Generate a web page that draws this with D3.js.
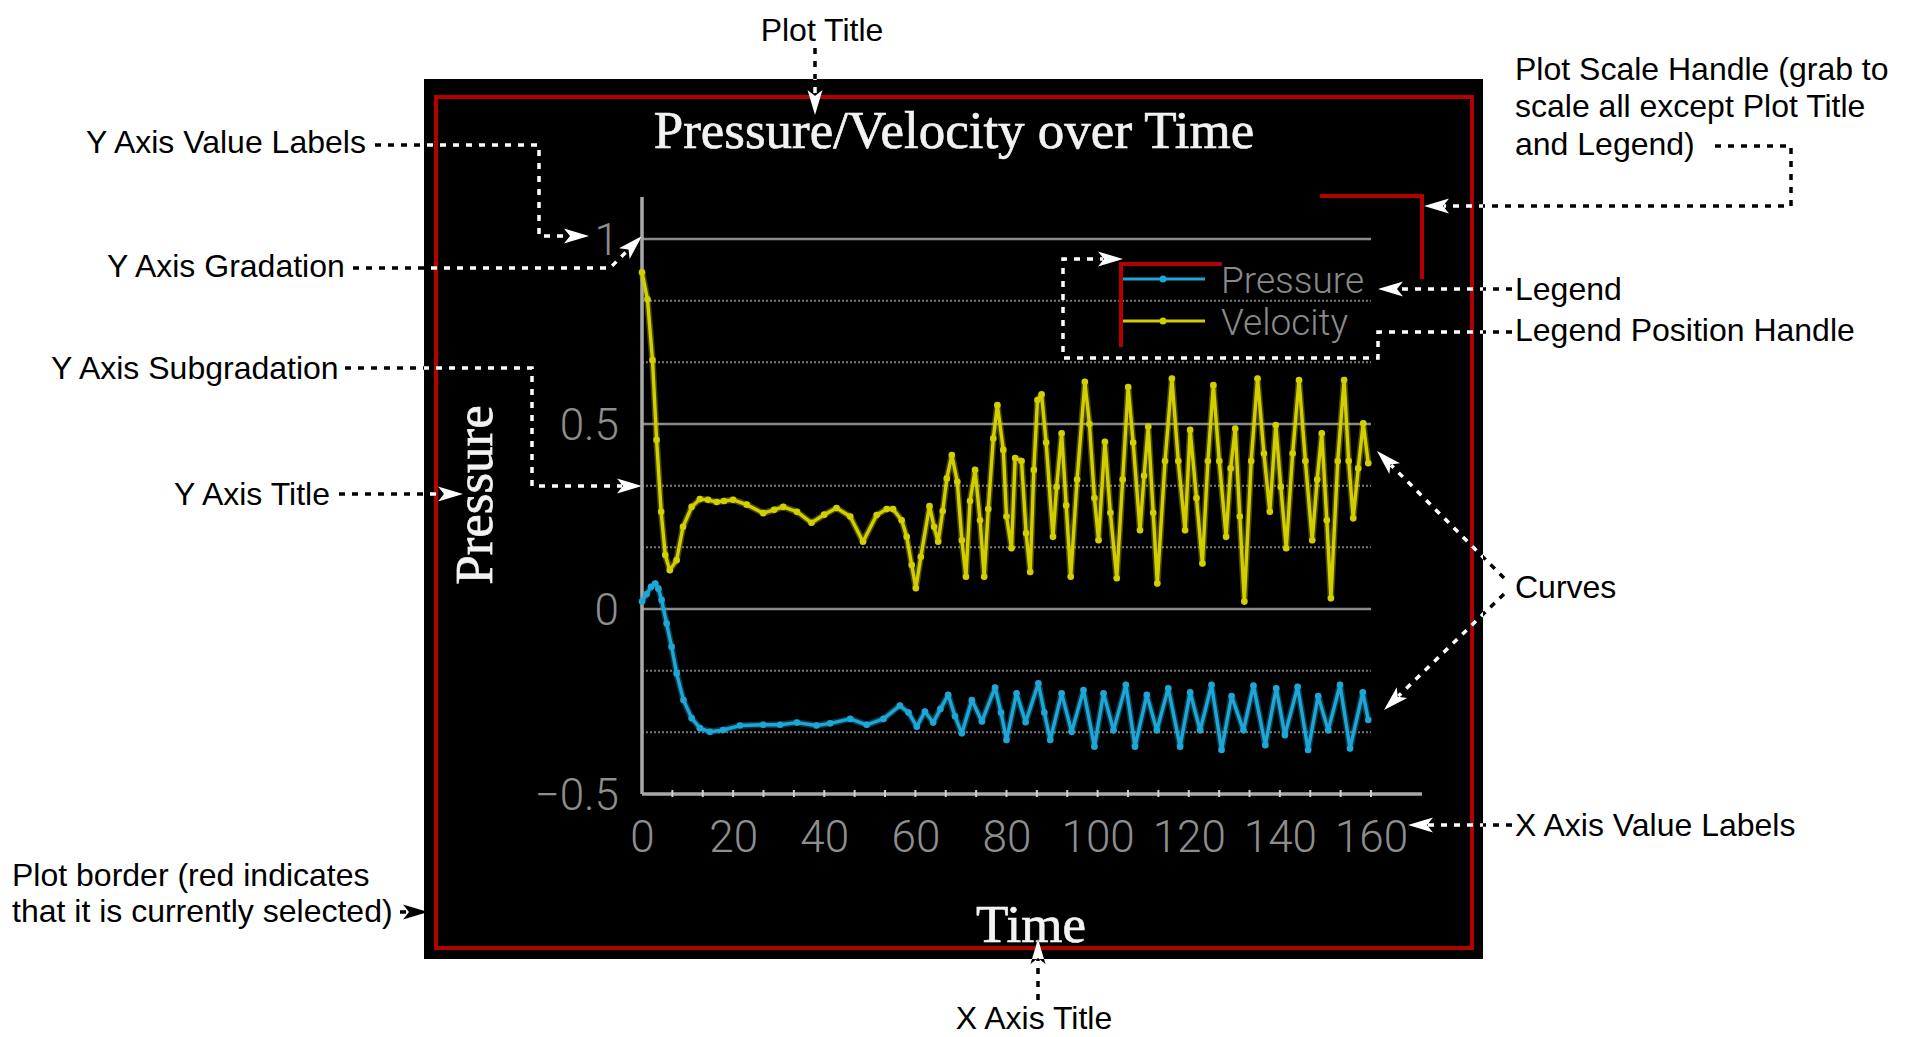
<!DOCTYPE html>
<html><head><meta charset="utf-8">
<script src="https://cdn.jsdelivr.net/npm/d3@7"></script>
<style>html,body{margin:0;padding:0;background:#fff;overflow:hidden}</style>
</head><body>
<svg id="c" width="1911" height="1037"></svg>
<script>
// ---------- data ----------
const chartTitle = "Pressure/Velocity over Time";
const xTitle = "Time";
const yTitle = "Pressure";
const seriesNames = ["Pressure", "Velocity"];
const xTickValues = [0, 20, 40, 60, 80, 100, 120, 140, 160];
const yTickValues = [-0.5, 0, 0.5, 1];
const yGridSolid = [0, 0.5, 1];
const yGridDotted = [-1/3, -1/6, 1/6, 1/3, 2/3, 5/6];

const pressureTime = [0,1,2,2.9,3.6,4.3,5.4,6.5,7.6,9.1,10.9,12.7,14.9,17.8,21.5,26.6,30.3,34,38.3,41.3,45.7,49.3,53,56.6,58.5,60.3,62.1,63.9,65.5,67.2,68.7,70.2,72.4,74.6,77.5,78.8,80,82.2,84.2,87,88.3,89.6,92.1,94.3,96.9,99.3,101.3,103.5,106.2,108.2,110.8,113,115.5,118.1,120.3,122.5,125,127.2,129.4,132,134.2,136.8,139.2,141.1,143.9,146.2,148.4,150.6,153.2,155.4,158.2,159.4];
const pressureValue = [0.02,0.04,0.06,0.069,0.055,0.024,-0.039,-0.102,-0.174,-0.246,-0.295,-0.322,-0.332,-0.327,-0.315,-0.313,-0.313,-0.307,-0.315,-0.309,-0.297,-0.313,-0.297,-0.261,-0.28,-0.318,-0.277,-0.307,-0.27,-0.232,-0.29,-0.336,-0.246,-0.304,-0.212,-0.28,-0.354,-0.228,-0.306,-0.201,-0.28,-0.354,-0.228,-0.332,-0.219,-0.372,-0.228,-0.328,-0.205,-0.372,-0.232,-0.328,-0.214,-0.372,-0.225,-0.328,-0.205,-0.381,-0.235,-0.328,-0.207,-0.368,-0.214,-0.341,-0.21,-0.381,-0.235,-0.328,-0.205,-0.377,-0.225,-0.3];

const velocityTime = [0,1.2,2.3,3.2,4.2,5.1,6.1,7.6,9,10.9,12.7,14.5,16.4,18,20,23,26.6,29,31,34,37.2,40,42.7,45.7,48.5,51.5,53.7,55.1,57,58.1,59.2,60.1,61.2,63.1,64.1,65,66,66.9,68,69.2,70.2,71.1,72,73.1,74.2,75.1,76,77.1,78,79.3,80,81.1,81.9,83.3,84.3,85.2,86,86.8,87.7,88.7,90.2,91,92.1,93.1,94.1,95.5,97.2,98.2,99.3,100.2,101.6,102.8,104.2,105.5,106.7,107.8,109.3,110.2,111.1,112.2,113.1,114.8,116.3,117.7,119.2,120.3,121.7,123,124.2,125.4,126.7,128.2,129.2,130.2,131.2,132.2,133.7,135.1,136.5,137.8,139.1,140.2,141.4,142.8,144.2,145.6,147.1,148.2,149.2,150.3,151.2,152.7,154.1,155.1,156.1,157.2,158.3,159.4];
const velocityValue = [0.91,0.837,0.673,0.457,0.263,0.146,0.105,0.132,0.222,0.276,0.297,0.295,0.289,0.292,0.295,0.282,0.259,0.268,0.276,0.263,0.233,0.255,0.273,0.25,0.182,0.254,0.27,0.27,0.24,0.195,0.119,0.056,0.141,0.278,0.222,0.182,0.265,0.353,0.416,0.344,0.186,0.087,0.292,0.376,0.24,0.087,0.27,0.461,0.551,0.43,0.25,0.164,0.408,0.4,0.205,0.1,0.376,0.565,0.58,0.45,0.195,0.33,0.475,0.28,0.087,0.35,0.614,0.5,0.3,0.186,0.452,0.26,0.083,0.35,0.6,0.45,0.213,0.36,0.493,0.26,0.069,0.4,0.623,0.4,0.213,0.484,0.3,0.123,0.4,0.605,0.4,0.195,0.38,0.488,0.25,0.02,0.4,0.623,0.42,0.263,0.497,0.33,0.164,0.42,0.619,0.4,0.186,0.35,0.475,0.24,0.029,0.4,0.619,0.4,0.245,0.38,0.502,0.394];

const seriesColors = ["#1ea6d6", "#d2ce00"];

// annotation labels
const annTexts = [
  {t: "Plot Title", x: 822, y: 41, a: "middle"},
  {t: "Plot Scale Handle (grab to", x: 1515, y: 80, a: "start"},
  {t: "scale all except Plot Title", x: 1515, y: 117, a: "start"},
  {t: "and Legend)", x: 1515, y: 155, a: "start"},
  {t: "Legend", x: 1515, y: 300, a: "start"},
  {t: "Legend Position Handle", x: 1515, y: 341, a: "start"},
  {t: "Curves", x: 1515, y: 598, a: "start"},
  {t: "X Axis Value Labels", x: 1515, y: 836, a: "start"},
  {t: "Y Axis Value Labels", x: 86, y: 153, a: "start"},
  {t: "Y Axis Gradation", x: 107, y: 277, a: "start"},
  {t: "Y Axis Subgradation", x: 51, y: 379, a: "start"},
  {t: "Y Axis Title", x: 174, y: 505, a: "start"},
  {t: "Plot border (red indicates", x: 12, y: 886, a: "start"},
  {t: "that it is currently selected)", x: 12, y: 922, a: "start"},
  {t: "X Axis Title", x: 1034, y: 1029, a: "middle"}
];
const annArrows = [
  {p: [[815,48],[815,115]]},
  {p: [[375,145],[539,145],[539,236],[589,236]]},
  {p: [[353,268],[610,268],[642,236]]},
  {p: [[345,368],[532,368],[532,486],[642,486]]},
  {p: [[339,494],[463,494]]},
  {p: [[1715,146],[1791,146],[1791,206],[1424,206]]},
  {p: [[1512,289],[1378,289]]},
  {p: [[1512,332],[1378,332],[1378,358],[1063,358],[1063,259],[1123,259]]},
  {p: [[1504,578],[1377,451]]},
  {p: [[1504,594],[1384,710]]},
  {p: [[1512,825],[1408,825]]},
  {p: [[1038,1000],[1038,939]]},
  {p: [[400,912],[428,912]], blackOnly: true}
];

// ---------- drawing ----------
const svg = d3.select("#c");
svg.append("rect").attr("width", 1911).attr("height", 1037).attr("fill", "#fff");

const panel = {x: 424, y: 79, w: 1059, h: 880};
svg.append("defs").append("clipPath").attr("id", "panelClip")
  .append("rect").attr("x", panel.x).attr("y", panel.y).attr("width", panel.w).attr("height", panel.h);

svg.append("rect").attr("x", panel.x).attr("y", panel.y).attr("width", panel.w).attr("height", panel.h).attr("fill", "#000");
svg.append("rect").attr("x", 436).attr("y", 97).attr("width", 1036).attr("height", 851)
  .attr("fill", "none").attr("stroke", "#b30000").attr("stroke-width", 4);

const x = d3.scaleLinear().domain([0, 160]).range([642, 1371]);
const y = d3.scaleLinear().domain([-0.5, 1]).range([794, 239]);

// grid
const g = svg.append("g");
g.selectAll("line.gs").data(yGridSolid).join("line")
  .attr("x1", x(0)).attr("x2", x(160)).attr("y1", d => y(d)).attr("y2", d => y(d))
  .attr("stroke", "#8a8a8a").attr("stroke-width", 2.5);
g.selectAll("line.gd").data(yGridDotted).join("line")
  .attr("x1", x(0)).attr("x2", x(160)).attr("y1", d => y(d)).attr("y2", d => y(d))
  .attr("stroke", "#7a7a7a").attr("stroke-width", 2).attr("stroke-dasharray", "2,2");

// axes
const xAxisG = svg.append("g").attr("transform", `translate(0,${y(-0.5)})`)
  .call(d3.axisBottom(x).tickValues(xTickValues).tickSize(0).tickFormat(d3.format("d")));
xAxisG.select(".domain").remove();
xAxisG.selectAll("text").attr("y", 42).attr("dy", "0.36em")
  .attr("font-family", "Roboto, 'DejaVu Sans', sans-serif").attr("font-weight", 300)
  .attr("font-size", 44).attr("fill", "#8e8e8e");
const yAxisG = svg.append("g").attr("transform", `translate(${x(0)},0)`)
  .call(d3.axisLeft(y).tickValues(yTickValues).tickSize(0).tickPadding(23).tickFormat(d3.format("~g")));
yAxisG.select(".domain").remove();
yAxisG.selectAll("text").attr("dy", "0.36em")
  .attr("font-family", "Roboto, 'DejaVu Sans', sans-serif").attr("font-weight", 300)
  .attr("font-size", 44).attr("fill", "#8e8e8e");

// axis lines
svg.append("line").attr("x1", x(0)).attr("x2", x(160) + 51).attr("y1", y(-0.5)).attr("y2", y(-0.5))
  .attr("stroke", "#a8a8a8").attr("stroke-width", 3.5);
svg.append("line").attr("x1", x(0)).attr("x2", x(0)).attr("y1", y(-0.5)).attr("y2", y(1) - 42)
  .attr("stroke", "#a8a8a8").attr("stroke-width", 3.5);
const xMinor = d3.range(1, 25).map(k => k * 20 / 3);
svg.append("g").selectAll("line").data(xMinor).join("line")
  .attr("x1", d => x(d)).attr("x2", d => x(d)).attr("y1", y(-0.5) - 4).attr("y2", y(-0.5) + 3)
  .attr("stroke", "#d0d0d0").attr("stroke-width", 2);

// series
const series = [
  {name: seriesNames[0], t: pressureTime, v: pressureValue, c: seriesColors[0]},
  {name: seriesNames[1], t: velocityTime, v: velocityValue, c: seriesColors[1]}
];
const line = d3.line().x(d => x(d[0])).y(d => y(d[1]));
series.forEach(s => {
  const pts = s.t.map((t, i) => [t, s.v[i]]);
  svg.append("path").datum(pts).attr("d", line).attr("fill", "none")
    .attr("stroke", s.c).attr("stroke-opacity", 0.35).attr("stroke-width", 6.5).attr("stroke-linejoin", "round");
  svg.append("path").datum(pts).attr("d", line).attr("fill", "none")
    .attr("stroke", s.c).attr("stroke-width", 3.4).attr("stroke-linejoin", "round");
  svg.append("g").selectAll("circle").data(pts).join("circle")
    .attr("cx", d => x(d[0])).attr("cy", d => y(d[1])).attr("r", 3.3).attr("fill", s.c);
});

// titles
const serif = "'Liberation Serif', 'Times New Roman', serif";
svg.append("text").text(chartTitle).attr("x", 954).attr("y", 148).attr("text-anchor", "middle")
  .attr("font-family", serif).attr("font-size", 53)
  .attr("fill", "#f2f2f2").attr("stroke", "#f2f2f2").attr("stroke-width", 0.7);
svg.append("text").text(xTitle).attr("x", 1031).attr("y", 942).attr("text-anchor", "middle")
  .attr("font-family", serif).attr("font-size", 53)
  .attr("fill", "#f2f2f2").attr("stroke", "#f2f2f2").attr("stroke-width", 0.7);
svg.append("text").text(yTitle).attr("transform", "translate(492,495) rotate(-90)").attr("text-anchor", "middle")
  .attr("font-family", serif).attr("font-size", 53)
  .attr("fill", "#f2f2f2").attr("stroke", "#f2f2f2").attr("stroke-width", 0.7);

// legend
const lg = svg.append("g");
series.forEach((s, i) => {
  const ly = 279 + i * 42;
  lg.append("line").attr("x1", 1122).attr("x2", 1205).attr("y1", ly).attr("y2", ly)
    .attr("stroke", s.c).attr("stroke-width", 3.2);
  lg.append("circle").attr("cx", 1163).attr("cy", ly).attr("r", 3.5).attr("fill", s.c);
  lg.append("text").text(s.name).attr("x", 1221).attr("y", ly + 14)
    .attr("font-family", "Roboto, 'DejaVu Sans', sans-serif").attr("font-weight", 300)
    .attr("font-size", 37).attr("fill", "#8a8a8a");
});
// legend position handle & scale handle (red brackets)
svg.append("path").attr("d", "M1121,347 L1121,264 L1222,264").attr("fill", "none")
  .attr("stroke", "#b30000").attr("stroke-width", 4);
svg.append("path").attr("d", "M1320,196 L1422,196 L1422,279").attr("fill", "none")
  .attr("stroke", "#b30000").attr("stroke-width", 4);

// annotations
const annG = svg.append("g");
annG.selectAll("text").data(annTexts).join("text")
  .attr("x", d => d.x).attr("y", d => d.y).attr("text-anchor", d => d.a).text(d => d.t)
  .attr("font-family", "'Liberation Sans', Arial, sans-serif").attr("font-size", 32).attr("fill", "#000");

function drawArrow(parent, a, color) {
  const p = a.p, n = p.length;
  const [tx, ty] = p[n - 1], [px, py] = p[n - 2];
  const ang = Math.atan2(ty - py, tx - px);
  const base = [tx - 20 * Math.cos(ang), ty - 20 * Math.sin(ang)];
  const pts = p.slice(0, n - 1).concat([base]);
  parent.append("path").attr("d", d3.line()(pts)).attr("fill", "none")
    .attr("stroke", color).attr("stroke-width", 3.5).attr("stroke-dasharray", "6,7");
  parent.append("path").attr("d", "M0,0 L-25,-7.5 L-19,0 L-25,7.5 Z")
    .attr("transform", `translate(${tx},${ty}) rotate(${ang * 180 / Math.PI})`)
    .attr("fill", color);
}
const blackG = svg.append("g");
annArrows.forEach(a => drawArrow(blackG, a, "#000"));
const whiteG = svg.append("g").attr("clip-path", "url(#panelClip)");
annArrows.filter(a => !a.blackOnly).forEach(a => drawArrow(whiteG, a, "#fff"));
</script>
</body></html>
